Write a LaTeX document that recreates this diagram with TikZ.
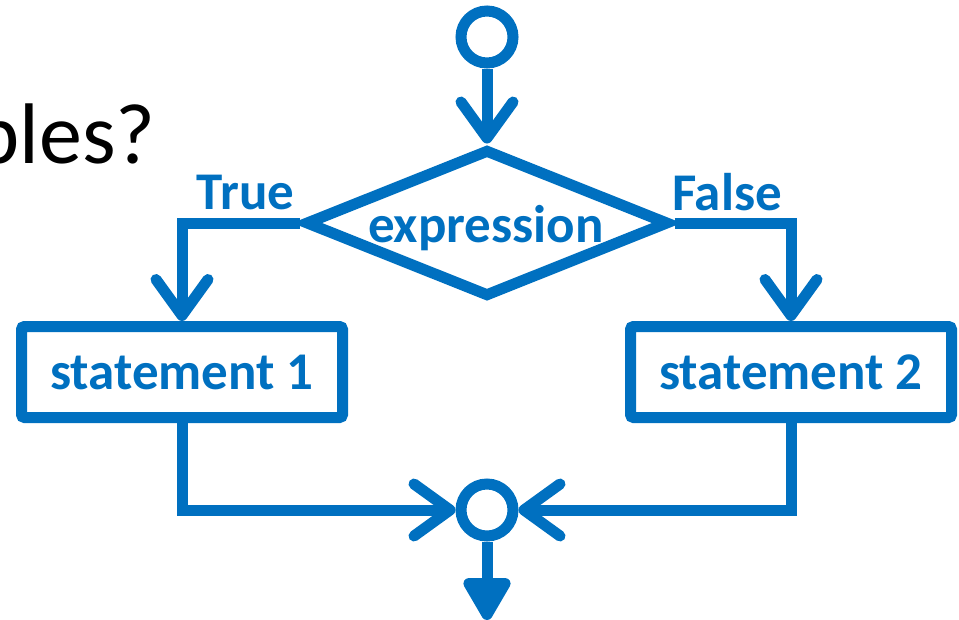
\documentclass[tikz,border=0pt]{standalone}
\usepackage{fontspec}
\setmainfont{Carlito}
\usetikzlibrary{arrows.meta,shapes.geometric}
\definecolor{fblue}{RGB}{0,112,192}
\begin{document}
\begin{tikzpicture}[x=1pt,y=-1pt,
  ln/.style={draw=fblue,line width=11pt},
  circ/.style={ln,circle,minimum size=52pt,inner sep=0pt},
  dia/.style={ln,diamond,minimum width=364pt,minimum height=148pt,inner sep=0pt,aspect=2.46},
  sbox/.style={ln,rectangle,rounded corners=3pt,minimum width=321pt,minimum height=91pt,inner sep=0pt,
    text=fblue,font=\fontsize{53}{60}\selectfont\bfseries},
  lbl/.style={text=fblue,font=\fontsize{53}{60}\selectfont\bfseries,inner sep=0pt},
  arr/.style={ln,-{Straight Barb[length=36pt,width=52pt,line cap=round,line join=round]}},
  arrF/.style={ln,-{Triangle[length=48pt,width=52pt,line join=round,round]}}
]
\useasboundingbox (0,0) rectangle (959,619);
\node[anchor=base east,inner sep=0pt,font=\fontsize{86}{96}\selectfont] (title) at (156,163) {ples?};
\node[circ] (top) at (487,37) {};
\node[dia] (d) at (487,223) {};
\node[lbl,anchor=base] (expr) at (486,242) {expression};
\node[sbox] (s1) at (182,372) {statement 1};
\node[sbox] (s2) at (791,372) {statement 2};
\node[circ] (bot) at (487,510) {};
\coordinate (end) at (487,620);
\node[lbl,anchor=base] (tl) at (245.5,209) {True};
\node[lbl,anchor=base] (fl) at (727,210) {False};
\draw[arr] (top) -- (d.north);
\draw[arr] (d.west) -| (s1.north);
\draw[arr] (d.east) -| (s2.north);
\draw[arr] (s1.south) |- (bot.west);
\draw[arr] (s2.south) |- (bot.east);
\draw[arrF] (bot.south) -- (end);
\end{tikzpicture}
\end{document}
